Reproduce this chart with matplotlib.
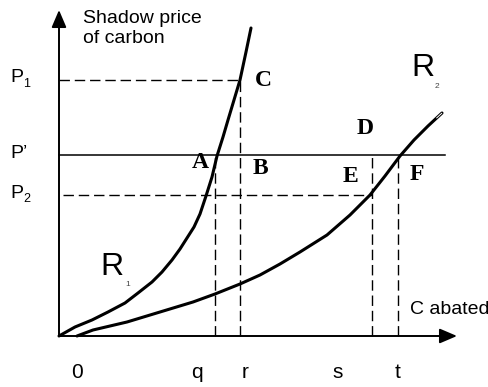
"""
Abatement cost curves R1 / R2 with a common shadow price of carbon.
"""

import matplotlib
matplotlib.use("Agg")
import matplotlib.pyplot as plt

plt.rcParams.update({
    "font.family": "Liberation Sans",
    "font.size": 14,
})

INK = "black"
SERIF = "Liberation Serif"

# Curve points (origin at the axes corner)
r1_x = [0, 16, 33, 49, 66, 79, 93, 103, 113, 121, 128, 135, 141, 147,
        153, 158, 164, 169, 181, 187, 192]
r1_y = [0, 9, 16, 24, 33, 43, 54, 64, 76, 87, 98, 109, 122, 140,
        159, 180, 199, 216, 256, 284, 308]

r2_x = [18, 34, 68, 101, 134, 156, 181, 201, 221, 241, 268, 291, 311,
        326, 341, 355, 369, 383]
r2_y = [0, 6, 14, 24, 34, 42, 52, 61, 72, 84, 101, 121, 141,
        160, 180, 196, 210, 223]

# Price levels
P1 = 256
P_PRIME = 181
P2 = 141

# Abatement quantities
q, r, s, t = 156, 181, 313, 339

x_labels = ["0", "q", "r", "s", "t"]
x_label_pos = [18, 138, 186, 279, 339]

# Point labels
points = ["A", "B", "C", "D", "E", "F"]
point_x = [141, 201, 204, 306, 291, 358]
point_y = [173, 168, 256, 208, 159, 161]

fig = plt.figure(figsize=(4.89, 3.87), dpi=100)
ax = fig.add_axes([0, 0, 1, 1])
ax.set_xlim(-59, 430)
ax.set_ylim(-51, 336)
ax.axis("off")

# axes with arrow heads
arrow = dict(arrowstyle="-|>,head_length=0.75,head_width=0.32", lw=1.4,
             color=INK, shrinkA=0, shrinkB=0)
ax.annotate("", xy=(0, 326), xytext=(0, 0), arrowprops=arrow)
ax.annotate("", xy=(398, 0), xytext=(0, 0), arrowprops=arrow)

# price lines
dash = dict(color=INK, lw=1.0, ls=(0, (7.5, 3.5)))
ax.plot([0, 386], [P_PRIME, P_PRIME], color=INK, lw=1.1)
ax.plot([0, r], [P1, P1], **dash)
ax.plot([4, s], [P2, P2], **dash)

# quantity lines
ax.plot([q, q], [0, P_PRIME], **dash)
ax.plot([r, r], [0, P1], **dash)
ax.plot([s, s], [0, P_PRIME], **dash)
ax.plot([t, t], [0, P_PRIME], **dash)

# the two cost curves
ax.plot(r1_x, r1_y, color=INK, lw=2.2, solid_capstyle="round",
        solid_joinstyle="round")
ax.plot(r2_x, r2_y, color=INK, lw=2.2, solid_capstyle="round",
        solid_joinstyle="round")

# hollow tip on the last bit of R2
tip_x0 = r2_x[-1] - 0.4 * (r2_x[-1] - r2_x[-2])
tip_y0 = r2_y[-1] - 0.4 * (r2_y[-1] - r2_y[-2])
ax.plot([tip_x0, r2_x[-1]], [tip_y0, r2_y[-1]], color="white", lw=0.7,
        solid_capstyle="butt")

# axis titles
ax.text(24, 326, "Shadow price\nof carbon", ha="left", va="top",
        linespacing=1.2)
ax.text(351, 26, "C abated", ha="left", va="center")

# price labels
ax.text(-49, 258, "P", ha="left", va="center", fontsize=14)
ax.text(-36, 252, "1", ha="left", va="center", fontsize=9)
ax.text(-49, 183, "P’", ha="left", va="center", fontsize=14)
ax.text(-49, 143, "P", ha="left", va="center", fontsize=14)
ax.text(-36, 137, "2", ha="left", va="center", fontsize=9)

# quantity labels
for lab, xp in zip(x_labels, x_label_pos):
    ax.text(xp, -36, lab, ha="center", va="center", fontsize=15)

# point labels
for lab, xp, yp in zip(points, point_x, point_y):
    ax.text(xp, yp, lab, ha="center", va="center", fontsize=17,
            family=SERIF, weight="bold")

# curve names
ax.text(53, 69, "R", ha="center", va="center", fontsize=23)
ax.text(69, 51, "1", ha="center", va="center", fontsize=6, color="#444444")
ax.text(364, 268, "R", ha="center", va="center", fontsize=23)
ax.text(378, 249, "2", ha="center", va="center", fontsize=6, color="#444444")

plt.savefig("out.png", dpi=100)
